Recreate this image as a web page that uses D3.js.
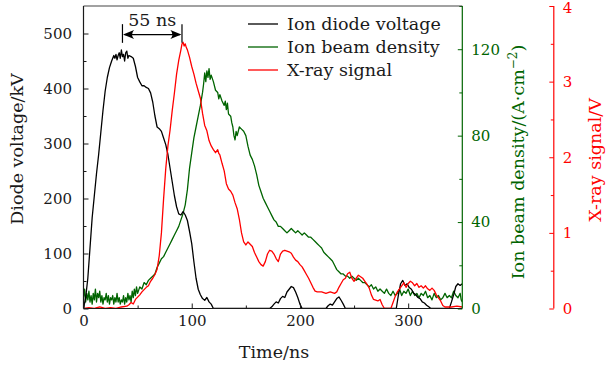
<!DOCTYPE html>
<html><head><meta charset="utf-8">
<script src="https://cdn.jsdelivr.net/npm/d3@7"></script>
<style>html,body{margin:0;padding:0;background:#fff}svg{display:block}</style>
</head><body><svg id="c" width="608" height="365"></svg>
<script>
// ---- data ----
const voltageT = [0,2,4,6,8,10,12,14,16,18,20,22,24,26,28,29,30,31,32,33,34,35,36,37,38,39,40,41,42,44,46,48,50,52,54,56,58,60,62,64,66,68,70,72,74,76,78,80,82,84,86,88,90,92,94,96,98,100,102,104,106,108,110,112,114,116,118,120,172,174,176,178,180,182,184,186,188,190,192,194,196,198,200,202,224,226,228,230,232,234,236,238,240,242,289,291,293,295,297,299,301,303,305,307,309,311,313,315,317,319,321,338,340,342,344,346,348,350];
const voltageV = [0,20,55,110,165,205,245,280,320,360,395,420,438,450,460,455,462,452,460,465,455,470,458,462,450,465,468,455,460,458,455,440,420,412,405,405,402,400,392,375,350,330,327,322,310,298,280,255,230,205,185,172,170,176,170,160,140,118,85,55,35,25,18,15,20,12,8,0,0,3,8,12,10,18,22,20,30,35,40,38,30,20,8,0,0,5,8,6,12,18,21,15,8,0,0,25,45,51,42,45,38,35,28,25,20,18,12,10,6,3,0,0,12,25,40,45,42,45];

const xrayT = [0,5,10,15,20,25,30,35,40,42,44,46,48,50,52,54,56,58,60,62,64,66,68,70,72,74,76,78,80,82,84,86,88,90,91,92,93,94,95,96,98,100,102,104,106,108,110,112,114,116,118,120,122,124,125,126,128,130,132,134,136,138,140,142,144,146,148,150,152,154,156,158,160,162,164,166,168,170,172,174,176,178,180,182,184,186,188,190,192,194,196,198,200,202,204,206,208,210,212,214,216,220,224,228,232,234,236,238,240,242,244,246,248,250,252,254,256,258,260,262,264,266,268,270,272,274,276,278,284,286,288,290,292,294,296,298,300,302,304,306,308,310,312,314,316,318,320,322,324,326,328,330,332,334,340,345,350];
const xrayV = [0,0.01,0,0.02,0,0.01,0,0.02,0.03,0.05,0.08,0.06,0.12,0.15,0.18,0.22,0.25,0.28,0.30,0.36,0.40,0.45,0.52,0.70,1.00,1.45,1.85,2.15,2.36,2.62,2.85,3.10,3.28,3.42,3.50,3.52,3.47,3.50,3.45,3.42,3.32,3.20,3.10,2.98,2.88,2.78,2.58,2.42,2.35,2.22,2.15,2.10,2.06,2.10,2.05,2.03,1.92,1.82,1.65,1.58,1.55,1.50,1.40,1.32,1.18,1.00,0.88,0.84,0.88,0.85,0.82,0.74,0.68,0.62,0.58,0.56,0.62,0.72,0.77,0.76,0.72,0.66,0.62,0.72,0.76,0.77,0.76,0.75,0.73,0.68,0.64,0.62,0.58,0.55,0.50,0.45,0.40,0.34,0.28,0.23,0.22,0.22,0.20,0.22,0.20,0.22,0.28,0.33,0.38,0.40,0.46,0.48,0.40,0.36,0.40,0.44,0.42,0.40,0.36,0.32,0.27,0.18,0.12,0.11,0.10,0.12,0.05,0,0,0.08,0.16,0.22,0.26,0.30,0.34,0.28,0.33,0.36,0.34,0.30,0.33,0.28,0.30,0.27,0.30,0.26,0.24,0.27,0.24,0.18,0.14,0.10,0.04,0.02,0.02,0.03,0.02];

const densityT = [0,1,2,3,4,5,6,7,8,9,10,11,12,13,14,15,16,17,18,19,20,21,22,23,24,25,26,27,28,29,30,31,32,33,34,35,36,37,38,39,40,41,42,43,44,45,46,47,48,49,50,52,54,56,58,60,62,64,66,68,70,72,74,76,78,80,82,84,86,88,90,92,94,96,98,100,102,104,106,108,110,111,112,113,114,115,116,117,118,120,122,124,125,126,128,130,131,132,133,134,136,137,138,139,140,141,142,144,146,148,150,152,154,156,158,160,162,164,166,168,170,172,174,176,178,180,182,184,186,188,190,192,194,196,198,200,202,204,206,208,210,212,214,216,218,220,222,224,226,228,230,232,234,236,238,240,242,244,246,248,250,252,254,256,258,260,262,264,266,268,270,272,274,276,278,280,282,284,286,288,290,292,294,296,298,300,302,304,306,308,310,312,314,316,318,320,322,324,326,328,330,332,334,336,338,340,342,344,346,348,349,350];
const densityV = [5,9,3,7,4,8,3,6,2,7,4,9,3,7,5,8,3,6,2,5,4,7,3,6,2,5,4,6,2,5,3,7,3,5,2,4,3,6,2,5,3,7,4,6,3,8,5,9,6,10,7,10,9,12,11,13,14,15,16,19,21,23,24,26,28,30,32,34,36,38,41,44,48,55,65,72,79,84,89,94,100,104,109,105,110,107,111,106,108,105,101,100,97,99,96,94,96,92,95,90,89,86,84,80,78,82,80,84,83,82,80,75,71,69,66,62,57,54,51,49,47,45,43,41,40,38,38,37,36,35,36,37,36,35,36,35,34,35,34,33,33,32,31,30,29,28,26,25,24,23,22,20,18,17,16,16,15,15,14,15,14,13,14,13,12,12,11,10,11,9,10,8,9,8,7,9,7,6,8,6,7,9,6,8,7,9,6,8,6,7,5,7,6,8,5,6,4,7,5,6,4,5,7,5,6,5,8,6,5,7,4,3];

const xTicks = [0,100,200,300];
const voltTicks = [0,100,200,300,400,500];
const densTicks = [0,40,80,120];
const xrayTicks = [0,1,2,3,4];
const legendLabels = ["Ion diode voltage","Ion beam density","X-ray signal"];
const annotation = {from:36, to:91, label:"55 ns"};

// ---- drawing ----
const m={l:83.5,r:462.3,t:6,b:308.5};
const redX=553.8;
const BLACK="#000", GREEN="#006400", RED="#ff0000", INK="#1a1a1a";
const FONT="'DejaVu Serif', serif";
const TICKFS="15px", TITLEFS="17.5px";
const svg=d3.select("#c");
const x=d3.scaleLinear().domain([0,350]).range([m.l,m.r]);
const yV=d3.scaleLinear().domain([0,550]).range([m.b,m.t]);
const yD=d3.scaleLinear().domain([0,140]).range([m.b,m.t]);
const yX=d3.scaleLinear().domain([0,4]).range([m.b,m.t]);

svg.append("defs").append("clipPath").attr("id","clip").append("rect")
  .attr("x",m.l).attr("y",m.t-2).attr("width",m.r-m.l).attr("height",m.b-m.t+2);

function series(T,V,y,color){
  const data=T.map((t,i)=>[t,V[i]]);
  svg.append("path").datum(data).attr("clip-path","url(#clip)")
    .attr("fill","none").attr("stroke",color).attr("stroke-width",1.3)
    .attr("stroke-linejoin","round")
    .attr("d",d3.line().x(d=>x(d[0])).y(d=>y(d[1])));
}
series(densityT,densityV,yD,GREEN);
series(voltageT,voltageV,yV,BLACK);
series(xrayT,xrayV,yX,RED);

function styleAxis(g,color){
  g.select(".domain").remove();
  g.selectAll("line").attr("stroke",color).attr("stroke-width",1);
  g.selectAll("text").attr("fill",color).style("font-family",FONT).style("font-size",TICKFS);
}
function minor(g,color){g.select(".domain").remove();g.selectAll("line").attr("stroke",color);}
// bottom axis
const gx=svg.append("g").attr("transform",`translate(0,${m.b})`)
  .call(d3.axisBottom(x).tickValues(xTicks).tickSizeInner(-5).tickSizeOuter(0).tickPadding(7).tickFormat(d3.format("d")));
styleAxis(gx,INK);
svg.append("g").attr("transform",`translate(0,${m.b})`)
  .call(d3.axisBottom(x).tickValues([50,150,250]).tickSize(-3).tickFormat("")).call(g=>minor(g,INK));
// left axis
const gy=svg.append("g").attr("transform",`translate(${m.l},0)`)
  .call(d3.axisLeft(yV).tickValues(voltTicks).tickSizeInner(-5).tickSizeOuter(0).tickPadding(11.5).tickFormat(d3.format("d")));
styleAxis(gy,INK);
svg.append("g").attr("transform",`translate(${m.l},0)`)
  .call(d3.axisLeft(yV).tickValues([50,150,250,350,450]).tickSize(-3).tickFormat("")).call(g=>minor(g,INK));
// green axis
const gd=svg.append("g").attr("transform",`translate(${m.r},0)`)
  .call(d3.axisRight(yD).tickValues(densTicks).tickSizeInner(-4.5).tickSizeOuter(0).tickPadding(9).tickFormat(d3.format("d")));
styleAxis(gd,GREEN);
svg.append("g").attr("transform",`translate(${m.r},0)`)
  .call(d3.axisRight(yD).tickValues([20,60,100,140]).tickSize(-3).tickFormat("")).call(g=>minor(g,GREEN));
// red axis
const gr=svg.append("g").attr("transform",`translate(${redX},0)`)
  .call(d3.axisRight(yX).tickValues(xrayTicks).tickSizeInner(-4.5).tickSizeOuter(0).tickPadding(9).tickFormat(d3.format("d")));
styleAxis(gr,RED);
gr.selectAll(".tick text").filter(d=>d===4).attr("dy","0.42em");
svg.append("g").attr("transform",`translate(${redX},0)`)
  .call(d3.axisRight(yX).tickValues([0.5,1.5,2.5,3.5]).tickSize(-3).tickFormat("")).call(g=>minor(g,RED));

// frame lines
const ln=(x1,y1,x2,y2,c)=>svg.append("line").attr("x1",x1).attr("y1",y1).attr("x2",x2).attr("y2",y2).attr("stroke",c).attr("stroke-width",1.2);
ln(m.l,m.t,m.r,m.t,"#444");
ln(m.l,m.t,m.l,m.b,INK);
ln(m.l,m.b,m.r,m.b,INK);
ln(m.r,m.t,m.r,m.b,GREEN);
ln(redX,m.t,redX,m.b,RED);

// axis titles
const tf=(s)=>s.style("font-family",FONT).style("font-size",TITLEFS);
svg.append("text").attr("x",274).attr("y",358).attr("text-anchor","middle").text("Time/ns").call(tf).attr("fill",INK);
svg.append("text").attr("transform","translate(23,149) rotate(-90)").attr("text-anchor","middle").text("Diode voltage/kV").call(tf).attr("fill",INK);
const gt=svg.append("text").attr("transform","translate(524,162) rotate(-90)").attr("text-anchor","middle").call(tf).attr("fill",GREEN);
gt.append("tspan").text("Ion beam density/(A·cm");
gt.append("tspan").attr("dy",-7).style("font-size","12px").text("−2");
gt.append("tspan").attr("dy",7).text(")");
svg.append("text").attr("transform","translate(601,160) rotate(-90)").attr("text-anchor","middle").text("X-ray signal/V").call(tf).attr("fill",RED);

// legend
const legColors=[BLACK,GREEN,RED];
legendLabels.forEach((lab,i)=>{
  const yy=24+i*23;
  svg.append("line").attr("x1",248).attr("x2",278).attr("y1",yy).attr("y2",yy).attr("stroke",legColors[i]).attr("stroke-width",1.3);
  svg.append("text").attr("x",287).attr("y",yy+5.5).text(lab).call(tf).attr("fill",INK);
});

// annotation
const ax1=x(annotation.from), ax2=x(annotation.to), ay=yV(498);
[ax1,ax2].forEach(xx=>ln(xx,yV(517),xx,yV(483),"#000"));
ln(ax1+2,ay,ax2-2,ay,"#000");
const head=(xx,dir)=>`M${xx},${ay} L${xx+dir*11},${ay-4.5} Q${xx+dir*7},${ay} ${xx+dir*11},${ay+4.5} Z`;
svg.append("path").attr("d",head(ax1+0.6,1)).attr("fill","#000");
svg.append("path").attr("d",head(ax2-0.6,-1)).attr("fill","#000");
svg.append("text").attr("x",(ax1+ax2)/2).attr("y",26).attr("text-anchor","middle").text(annotation.label).call(tf).attr("fill",INK);
</script></body></html>
